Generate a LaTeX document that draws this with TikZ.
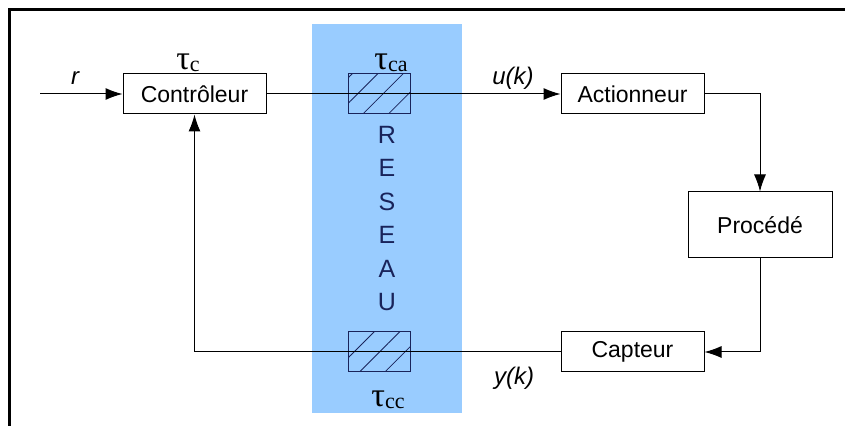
\documentclass[tikz,border=0pt]{standalone}
\usepackage{fontspec}
\setmainfont{Liberation Sans}
\newfontfamily\serif{Liberation Serif}
\usetikzlibrary{arrows.meta,patterns.meta}
\definecolor{reseaubleu}{RGB}{153,204,255}
\definecolor{marine}{RGB}{25,35,90}
\newcommand{\retd}[1]{{\serif\fontsize{17}{19}\selectfont τ}{\serif\fontsize{11}{13}\selectfont\raisebox{-1pt}{#1}}}
\begin{document}
\begin{tikzpicture}[x=0.5pt,y=-0.5pt,line width=0.5pt,
	every node/.style={font=\fontsize{11.5}{13}\selectfont},
	bloc/.style={draw,fill=white,minimum width=71.5pt,minimum height=20pt,inner sep=0pt},
	retard/.style={draw=marine,minimum width=31pt,minimum height=20pt,inner sep=0pt,
		pattern={Lines[angle=45,distance=9pt,line width=0.4pt]},pattern color=marine},
	fleche/.style={-{Latex[length=8.5pt,width=6pt]}},
	lettre/.style={text=marine,font=\fontsize{12.5}{14}\selectfont},
	signal/.style={font=\fontsize{12}{14}\selectfont\itshape}]
		\useasboundingbox (0,0) rectangle (845,426);
		% cadre
		\draw[line width=1.5pt] (9,426) -- (9,9.5) -- (845,9.5);
		% reseau
		\fill[reseaubleu] (312,24) rectangle (462,413);
		\node[retard] (hca) at (379,94) {};
		\node[retard] (hcc) at (379,352) {};
		\foreach \l [count=\i] in {R,E,S,E,A,U}
			\node[lettre] (res\i) at (387,{101+33.5*\i}) {\l};
		% blocs
		\node[bloc] (ctrl) at (194.5,94) {Contrôleur};
		\node[bloc] (act) at (632.5,94) {Actionneur};
		\node[bloc,minimum width=72pt,minimum height=33pt] (proc) at (760,225) {Procédé};
		\node[bloc] (capt) at (632.5,352) {Capteur};
		% liaisons
		\coordinate (rin) at (40,94);
		\draw[fleche] (rin) -- (ctrl.west);
		\draw[fleche] (ctrl.east) -- (act.west);
		\draw[fleche] (act.east) -| (proc.north);
		\draw[fleche] (proc.south) |- (capt.east);
		\draw[fleche] (capt.west) -| (ctrl.south);
		% etiquettes
		\node[signal] (lr) at (75,78) {r};
		\node[signal] (lu) at (513,78) {u(k)};
		\node[signal] (ly) at (514,378) {y(k)};
		\node (tc) at (188,63) {\retd{c}};
		\node (tca) at (391,63) {\retd{ca}};
		\node (tcc) at (388,400) {\retd{cc}};
\end{tikzpicture}
\end{document}
